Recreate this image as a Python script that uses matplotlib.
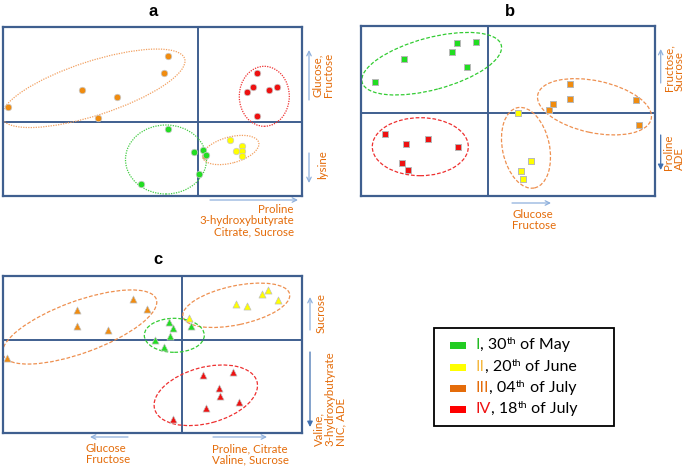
import matplotlib
matplotlib.use("Agg")
import matplotlib.pyplot as plt
from matplotlib.patches import Ellipse, Rectangle, FancyArrowPatch

plt.rcParams['font.family'] = ['Lato', 'DejaVu Sans']

W, H = 685, 467

# sampling dates
GREEN = '#22dd22'
YELLOW = '#ffff00'
ORANGE = '#f08c10'
RED = '#ee1111'

FRAME = '#3f5f8f'
TXT_OR = '#e46c0a'
TXT_GR = '#1a8a1a'
TXT_BL = '#1f1fee'
ARROW_LT = '#8fb0dc'
ARROW_DK = '#3f6fb0'

# ---- panel a, Gr3 (PC2 x PC3 scores)
a_green_x = [-30.6, -4.3, 4.4, 7.4, 0.4, -57.0]
a_green_y = [-6.4, -29.4, -28.0, -32.4, -51.4, -62.0]
a_yellow_x = [31.7, 37.4, 44.0, 43.7, 43.7]
a_yellow_y = [-18.0, -28.7, -24.0, -28.4, -34.0]
a_orange_x = [-30.6, -34.0, -116.0, -81.0, -190.3, -100.0, 6.7]
a_orange_y = [66.3, 49.0, 32.6, 25.6, 15.0, 4.0, -33.7]
a_red_x = [59.0, 55.0, 48.7, 71.0, 79.0, 59.0]
a_red_y = [49.0, 35.3, 30.6, 32.6, 35.6, 6.0]

# ---- panel b, Gr4 (PC3 x PC4 scores)
b_green_x = [-31.0, -11.7, -35.4, -83.7, -20.7, -112.4]
b_green_y = [70.0, 71.0, 61.0, 54.0, 46.0, 31.6]
b_yellow_x = [30.0, 43.0, 33.6, 35.6]
b_yellow_y = [0.0, -47.4, -57.7, -66.0]
b_orange_x = [82.6, 82.3, 65.6, 61.0, 148.0, 151.3]
b_orange_y = [29.3, 14.3, 9.6, 3.6, 13.3, -11.7]
b_red_x = [-102.7, -81.4, -59.4, -29.7, -86.0, -79.7]
b_red_y = [-20.7, -30.7, -25.4, -33.4, -49.4, -56.7]

# ---- panel c, Gr5 (PC1 x PC4 scores)
c_green_x = [-13.0, -8.4, 9.3, -12.0, -26.4, -17.4]
c_green_y = [18.3, 12.0, 14.3, 3.7, 0.3, -6.7]
c_yellow_x = [7.3, 86.0, 80.6, 96.0, 54.3, 65.0]
c_yellow_y = [22.0, 50.0, 45.7, 40.0, 36.0, 34.3]
c_orange_x = [-49.0, -35.0, -104.7, -105.0, -74.0, -175.0]
c_orange_y = [40.7, 31.0, 29.7, 13.7, 10.0, -18.3]
c_red_x = [21.6, 51.6, 37.0, 38.3, 57.3, 24.6, -9.0]
c_red_y = [-34.7, -32.3, -47.7, -56.3, -62.3, -68.3, -79.3]

legend_labels = [('I', ', 30', ' of May'), ('II', ', 20', ' of June'),
                 ('III', ', 04', ' of July'), ('IV', ', 18', ' of July')]
legend_colors = ['#22cc22', '#ffff00', '#e46c0a', '#ff0000']
numeral_colors = ['#22bb22', '#f5b840', '#e46c0a', '#ee1111']

fig = plt.figure(figsize=(W / 100, H / 100), dpi=100)

# invisible axes in pixel units for all the annotations
bg = fig.add_axes([0, 0, 1, 1])
bg.set_xlim(0, W)
bg.set_ylim(H, 0)
bg.axis('off')


def panel(box, cross):
    x0, y0, x1, y1 = box
    cx, cy = cross
    ax = fig.add_axes([x0 / W, 1 - y1 / H, (x1 - x0) / W, (y1 - y0) / H])
    ax.set_xlim(x0 - cx, x1 - cx)
    ax.set_ylim(cy - y1, cy - y0)
    ax.set_xticks([])
    ax.set_yticks([])
    for s in ax.spines.values():
        s.set_color(FRAME)
        s.set_linewidth(1.6)
    ax.axhline(0, color=FRAME, lw=1.4, zorder=1)
    ax.axvline(0, color=FRAME, lw=1.4, zorder=1)
    return ax


def ell(ax, xy, w, h, ang, col, ls):
    ax.add_patch(Ellipse(xy, w, h, angle=ang, fill=False, ec=col, lw=0.9,
                         ls=ls, zorder=2))


def arrow(p0, p1, col, style):
    bg.add_patch(FancyArrowPatch(p0, p1, arrowstyle=style, color=col, lw=0.9,
                                 mutation_scale=8, shrinkA=0, shrinkB=0))


def side_text(x, y, s, rot=90, **kw):
    bg.text(x, y, s, color=TXT_OR, fontsize=8.3, rotation=rot,
            linespacing=1.0, **kw)


# ---------------- panel a
axa = panel((3, 27, 302, 196), (198.3, 122.3))
ell(axa, (-105, 34), 192, 54, 18, '#f2a060', (0, (1, 1)))
ell(axa, (66, 26), 50, 60, 0, '#ee3030', (0, (1, 1)))
ell(axa, (-32.3, -37.2), 81, 69, 0, '#44cc44', (0, (1, 1)))
ell(axa, (32.4, -27.7), 58, 26, 15, '#f2a060', (0, (1, 1)))
kw_a = dict(marker='o', s=22, edgecolors='#c8c8c8', linewidths=0.5, zorder=3)
axa.scatter(a_orange_x, a_orange_y, c=ORANGE, **kw_a)
axa.scatter(a_red_x, a_red_y, c=RED, **kw_a)
axa.scatter(a_yellow_x, a_yellow_y, c=YELLOW, **kw_a)
axa.scatter(a_green_x, a_green_y, c=GREEN, **kw_a)

bg.text(153, 12, 'a', fontsize=12, fontweight='bold', ha='center', va='center',
        family='Liberation Sans')
bg.text(11, 43, 'Gr3', fontsize=11, color=TXT_BL, va='center')
bg.text(207, 30, 'PC3', fontsize=7.5, color=TXT_GR, rotation=-90, ha='center', va='top')
bg.text(297, 129, 'PC2', fontsize=7.5, color=TXT_GR, ha='right', va='center')
arrow((309, 100), (309, 50), ARROW_LT, '->')
side_text(323, 75, 'Glucose,\nFructose', ha='center', va='center', multialignment='left')
arrow((309, 153), (309, 183), ARROW_LT, '->')
side_text(323, 165, 'lysine', ha='center', va='center')
arrow((210, 200), (298, 200), ARROW_LT, '->')
side_text(294, 204, 'Proline\n3-hydroxybutyrate\nCitrate, Sucrose', rot=0,
          ha='right', va='top', multialignment='right')

# ---------------- panel b
axb = panel((361, 26, 655, 196), (487.7, 113.3))
ell(axb, (-56, 49.6), 144, 52, 15, '#33cc33', (0, (3, 1.5)))
ell(axb, (-67.4, -33.4), 96, 58, 0, '#ee3030', (0, (3, 1.5)))
ell(axb, (106.8, 6.5), 116, 52, -12, '#ee9050', (0, (3, 1.5)))
ell(axb, (38.3, -34.5), 47, 82, 12, '#ee9050', (0, (3, 1.5)))
kw_b = dict(marker='s', s=24, edgecolors='#b8b8b8', linewidths=0.7, zorder=3)
axb.scatter(b_green_x, b_green_y, c=GREEN, **kw_b)
axb.scatter(b_red_x, b_red_y, c=RED, **kw_b)
axb.scatter(b_orange_x, b_orange_y, c=ORANGE, **kw_b)
axb.scatter(b_yellow_x, b_yellow_y, c=YELLOW, **kw_b)

bg.text(510, 12, 'b', fontsize=12, fontweight='bold', ha='center', va='center',
        family='Liberation Sans')
bg.text(368, 42, 'Gr4', fontsize=11, color=TXT_BL, va='center')
bg.text(495, 29, 'PC4', fontsize=7.5, color=TXT_GR, rotation=-90, ha='center', va='top')
bg.text(653, 146, 'PC3', fontsize=7.5, color=TXT_GR, ha='right', va='center')
arrow((660.7, 83), (660.7, 49), ARROW_LT, '->')
side_text(674, 68, 'Fructose,\nSucrose', ha='center', va='center', multialignment='left')
arrow((660.7, 135), (660.7, 170), ARROW_DK, '-|>')
side_text(674, 152, 'Proline\nADE', ha='center', va='center', multialignment='left')
arrow((512, 203), (551, 203), ARROW_LT, '->')
side_text(512.5, 209, 'Glucose\nFructose', rot=0, ha='left', va='top')

# ---------------- panel c
axc = panel((3.3, 276, 302, 433), (181.7, 340))
ell(axc, (-102, 13), 163, 52, 20, '#ee9050', (0, (3, 1.5)))
ell(axc, (54.6, 34.7), 109, 39, 12, '#ee9050', (0, (3, 1.5)))
ell(axc, (-7.4, 4.7), 60, 34, 0, '#33cc33', (0, (3, 1.5)))
ell(axc, (24.1, -55.3), 106, 56, 15, '#ee3030', (0, (3, 1.5)))
kw_c = dict(marker='^', s=26, edgecolors='#c0c0c0', linewidths=0.5, zorder=3)
axc.scatter(c_orange_x, c_orange_y, c=ORANGE, **kw_c)
axc.scatter(c_yellow_x, c_yellow_y, c=YELLOW, **kw_c)
axc.scatter(c_green_x, c_green_y, c=GREEN, **kw_c)
axc.scatter(c_red_x, c_red_y, c=RED, **kw_c)

bg.text(158, 260, 'c', fontsize=12, fontweight='bold', ha='center', va='center',
        family='Liberation Sans')
bg.text(11, 287, 'Gr5', fontsize=11, color=TXT_BL, va='center')
bg.text(175, 277, 'PC4', fontsize=7.5, color=TXT_GR, rotation=-90, ha='center', va='top')
bg.text(299, 347, 'PC1', fontsize=7.5, color=TXT_GR, ha='right', va='center')
arrow((310, 330), (310, 297), ARROW_LT, '->')
side_text(321, 313, 'Sucrose', ha='center', va='center')
arrow((310, 352), (310, 427), ARROW_DK, '-|>')
side_text(330, 351, 'Valine,\n3-hydroxybutyrate\nNIC, ADE', ha='center', va='top',
          multialignment='left')
arrow((128, 437), (90, 437), ARROW_LT, '->')
side_text(86, 443, 'Glucose\nFructose', rot=0, ha='left', va='top')
arrow((213, 437), (267, 437), ARROW_LT, '->')
side_text(212, 443, 'Proline, Citrate\nValine, Sucrose', rot=0, ha='left', va='top')

# ---------------- legend
bg.add_patch(Rectangle((434, 328), 180, 98, fill=False, ec='black', lw=1.3))
rows_y = [345, 367, 388, 409]
for (num, day, month), pc, nc, y in zip(legend_labels, legend_colors,
                                         numeral_colors, rows_y):
    bg.add_patch(Rectangle((450, y - 3.5), 16, 7, color=pc, lw=0))
    t = bg.text(476, y, num, color=nc, fontsize=11.5, va='center')
    t = bg.annotate(day, xy=(1, 0), xycoords=t, va='bottom', fontsize=11.5)
    base = t
    t = bg.annotate('th', xy=(1, 0.45), xycoords=t, va='bottom', fontsize=7.5)
    bg.annotate(month, xy=(1, 0), xycoords=(t, base), va='bottom', fontsize=11.5)

fig.savefig('out.png', dpi=100)
